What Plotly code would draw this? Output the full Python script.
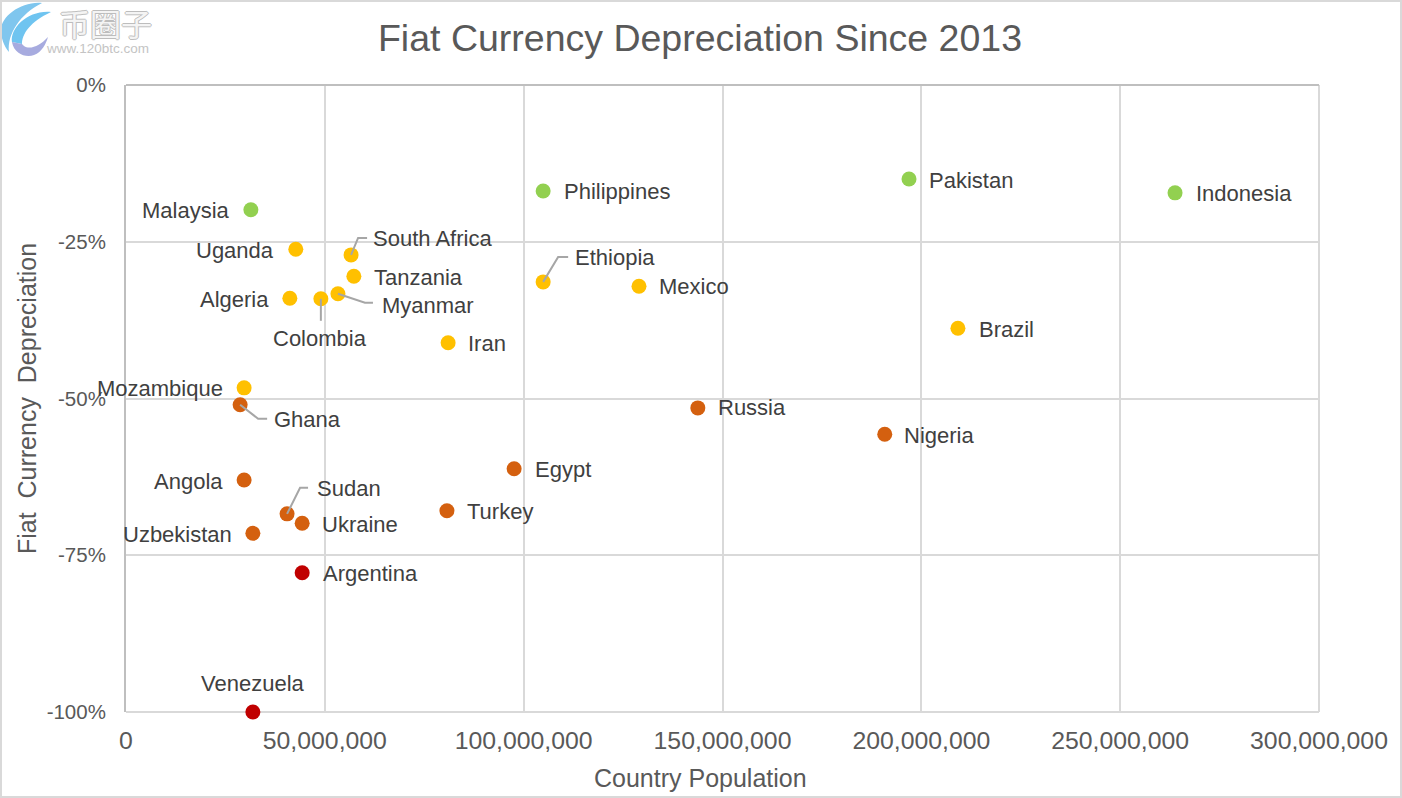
import plotly.graph_objects as go

# Graph data
green_names = ['Malaysia', 'Philippines', 'Pakistan', 'Indonesia']
green_pop = [31400000, 104900000, 196900000, 263800000]
green_dep = [-19.9, -16.9, -15.0, -17.2]

amber_names = ['Uganda', 'South Africa', 'Tanzania', 'Myanmar', 'Colombia', 'Algeria',
               'Iran', 'Mozambique', 'Ethiopia', 'Mexico', 'Brazil']
amber_pop = [42700000, 56600000, 57300000, 53300000, 49000000, 41200000,
             81000000, 29700000, 104900000, 129000000, 209200000]
amber_dep = [-26.2, -27.1, -30.5, -33.3, -34.1, -34.0,
             -41.1, -48.3, -31.4, -32.1, -38.8]

orange_names = ['Ghana', 'Angola', 'Sudan', 'Ukraine', 'Uzbekistan', 'Turkey',
                'Egypt', 'Russia', 'Nigeria']
orange_pop = [28700000, 29700000, 40500000, 44300000, 31900000, 80700000,
              97600000, 143800000, 190800000]
orange_dep = [-51.0, -63.0, -68.4, -69.9, -71.5, -67.9, -61.2, -51.5, -55.7]

red_names = ['Argentina', 'Venezuela']
red_pop = [44300000, 31900000]
red_dep = [-77.8, -100.0]

x_ticks = [0, 50000000, 100000000, 150000000, 200000000, 250000000, 300000000]
y_ticks = [0, -25, -50, -75, -100]
y_labels = ['0%', '-25%', '-50%', '-75%', '-100%']

groups = [
    (green_names, green_pop, green_dep, '#92D050'),
    (amber_names, amber_pop, amber_dep, '#FFC000'),
    (orange_names, orange_pop, orange_dep, '#D4600F'),
    (red_names, red_pop, red_dep, '#C00000'),
]

FONT = 'Liberation Sans'

# label placement: anchor, x shift, y shift in pixels from the marker
right = ('left', 19, -1)
left = ('right', -19, -1)
label_pos = {
    'Malaysia': left, 'Uganda': ('right', -20, -1), 'Algeria': left, 'Mozambique': left,
    'Angola': left, 'Uzbekistan': left,
    'South Africa': ('left', 20, 16), 'Myanmar': ('left', 42, -12),
    'Colombia': ('center', -1, -40), 'Ghana': ('left', 32, -15),
    'Sudan': ('left', 28, 25), 'Ethiopia': ('left', 30, 24),
    'Venezuela': ('center', 0, 29), 'Nigeria': ('left', 17, -1), 'Pakistan': ('left', 18, -1),
    'Tanzania': ('left', 18, -1), 'Ukraine': ('left', 18, -1), 'Russia': ('left', 18, 0),
    'Mexico': ('left', 18, 0), 'Turkey': ('left', 18, -1), 'Iran': ('left', 18, -1),
}

# leader lines, pixel offsets from the marker
leaders = {
    'South Africa': 'M 0 0 L 7 17 L 16 17',
    'Ethiopia': 'M 0 0 L 15 25 L 25 25',
    'Colombia': 'M 0 0 L 0 -22',
    'Myanmar': 'M 0 0 L 27 -9 L 35 -9',
    'Ghana': 'M 0 0 L 18 -14 L 27 -14',
    'Sudan': 'M 0 0 L 13 26 L 21 26',
}

fig = go.Figure()
annotations = []
shapes = []
for names, pop, dep, color in groups:
    fig.add_trace(go.Scatter(x=pop, y=dep, mode='markers', text=names, showlegend=False, cliponaxis=False,
                             marker=dict(color=color, size=15, line=dict(width=0))))
    for name, px_, d in zip(names, pop, dep):
        anchor, sx, sy = label_pos.get(name, right)
        annotations.append(dict(x=px_, y=d, xref='x', yref='y', text=name, showarrow=False,
                                xanchor=anchor, yanchor='middle', xshift=sx, yshift=sy,
                                font=dict(family=FONT, size=22, color='#404040')))
        if name in leaders:
            shapes.append(dict(type='path', xref='x', yref='y', xsizemode='pixel', ysizemode='pixel',
                               xanchor=px_, yanchor=d, path=leaders[name],
                               line=dict(color='#A6A6A6', width=2)))


# picture pixels to paper coordinates, for the frame and the logo
def pp(x, y):
    return f'{(x - 126) / 1193:.4f},{(712 - y) / 627:.4f}'


# logo in the corner
shapes.append(dict(type='path', xref='paper', yref='paper', line=dict(width=0), fillcolor='#7FC6EE',
                   path=f'M {pp(42, 3)} C {pp(22, 1)} {pp(1, 16)} {pp(1, 30)} C {pp(1, 38)} {pp(4, 46)} {pp(9, 52)} '
                        f'C {pp(7, 34)} {pp(20, 14)} {pp(42, 3)} Z'))
shapes.append(dict(type='path', xref='paper', yref='paper', line=dict(width=0), fillcolor='#6FC4F0',
                   path=f'M {pp(51, 12)} C {pp(28, 10)} {pp(10, 28)} {pp(12, 42)} L {pp(22, 44)} '
                        f'C {pp(22, 34)} {pp(30, 22)} {pp(51, 12)} Z'))
shapes.append(dict(type='path', xref='paper', yref='paper', line=dict(width=0), fillcolor='#A7ABDF',
                   path=f'M {pp(12, 42)} C {pp(14, 54)} {pp(26, 58)} {pp(34, 55)} '
                        f'C {pp(42, 52)} {pp(46, 44)} {pp(48, 37)} C {pp(40, 46)} {pp(30, 50)} {pp(24, 46)} '
                        f'L {pp(22, 44)} Z'))
annotations.append(dict(x=(57 - 126) / 1193, y=(712 - 22) / 627, xref='paper', yref='paper', text='币圈子',
                        showarrow=False, xanchor='left', yanchor='middle',
                        font=dict(family='Noto Sans CJK SC', size=31, color='#F4F4F4',
                                  shadow='1px 0 0 #BDBDBD, -1px 0 0 #BDBDBD, 0 1px 0 #BDBDBD, 0 -1px 0 #BDBDBD')))
annotations.append(dict(x=(44 - 126) / 1193, y=(712 - 48) / 627, xref='paper', yref='paper', text='www.120btc.com',
                        showarrow=False, xanchor='left', yanchor='middle',
                        font=dict(family=FONT, size=13.5, color='#C4C4C4')))

# x axis title sits left of the plot centre, so it goes in as an annotation
annotations.append(dict(x=(700 - 126) / 1193, y=(712 - 778) / 627, xref='paper', yref='paper',
                        text='Country Population', showarrow=False, xanchor='center', yanchor='middle',
                        font=dict(family=FONT, size=25, color='#595959')))

# bottom and right edges of the plot area, plotly leaves no grid line there
shapes.append(dict(type='line', xref='paper', yref='paper', x0=0, x1=1, y0=0, y1=0, layer='below',
                   line=dict(color='#D9D9D9', width=2)))
shapes.append(dict(type='line', xref='paper', yref='paper', x0=1, x1=1, y0=0, y1=1, layer='below',
                   line=dict(color='#D9D9D9', width=2)))

# outer frame of the picture
shapes.append(dict(type='rect', xref='paper', yref='paper', x0=-125 / 1193, x1=1275 / 1193,
                   y0=-85 / 627, y1=711 / 627, line=dict(color='#D9D9D9', width=2)))

fig.update_layout(
    width=1402, height=798,
    margin=dict(l=126, r=83, t=85, b=86),
    paper_bgcolor='white', plot_bgcolor='white',
    title=dict(text='Fiat Currency Depreciation Since 2013', x=700 / 1402, xanchor='center',
               y=1 - 38 / 798, yanchor='middle', font=dict(family=FONT, size=37.5, color='#595959')),
    annotations=annotations, shapes=shapes,
)
fig.update_xaxes(range=[0, 300000000], tickvals=x_ticks, tickformat=',d', ticklabelstandoff=11,
                 tickfont=dict(family=FONT, size=24.8, color='#595959'),
                 showgrid=True, gridcolor='#D9D9D9', gridwidth=2, zeroline=False,
                 showline=False, ticks='', mirror=False)
fig.update_yaxes(range=[-100, 0], tickvals=y_ticks, ticktext=y_labels, ticklabelstandoff=14,
                 title=dict(text='Fiat  Currency  Depreciation', standoff=3, font=dict(family=FONT, size=25, color='#595959')),
                 tickfont=dict(family=FONT, size=20.5, color='#595959'),
                 showgrid=True, gridcolor='#D9D9D9', gridwidth=2,
                 zeroline=True, zerolinecolor='#BFBFBF', zerolinewidth=2,
                 showline=True, linecolor='#BFBFBF', linewidth=2, ticks='')

fig.write_html('out.html', config=dict(displayModeBar=False), post_script="document.body.style.margin='0';")
